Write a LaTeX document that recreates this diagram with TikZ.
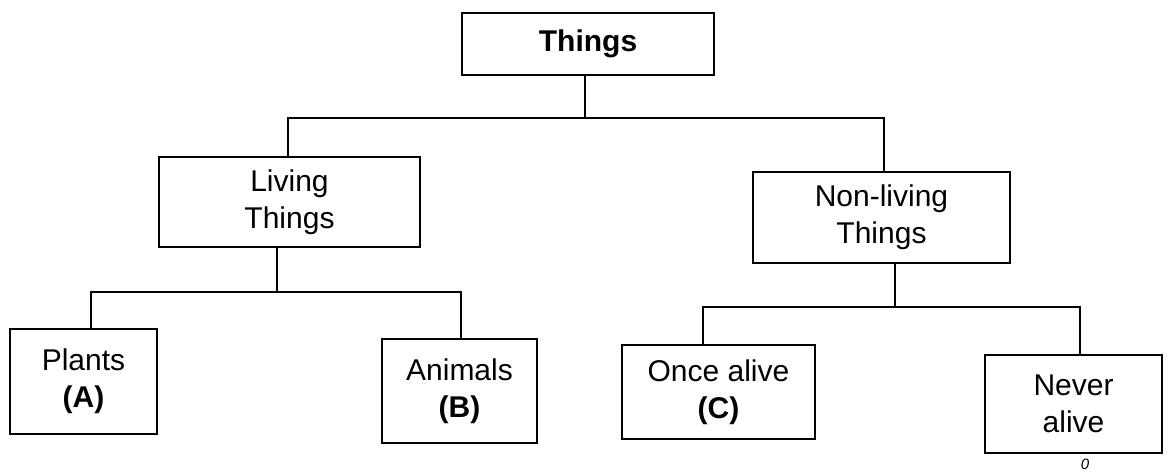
\documentclass[tikz,border=0pt]{standalone}
\usepackage{fontspec}
\setmainfont{Liberation Sans}
\begin{document}
\begin{tikzpicture}[x=1pt,y=-1pt,
  box/.style={draw=black, line width=2.2pt, rectangle, inner sep=0pt, align=center,
    font=\fontsize{30}{37}\selectfont},
  conn/.style={draw=black, line width=2.2pt, line cap=rect}]
\useasboundingbox (0,0) rectangle (1170,476);
\fill[white] (0,0) rectangle (1170,476);
% nodes
\node[box, minimum width=252pt, minimum height=62pt] (things) at (588,44) {\textbf{Things}};
\node[box, minimum width=261pt, minimum height=90pt] (living) at (289.5,202) {Living\\Things};
\node[box, minimum width=257pt, minimum height=91pt] (nonliving) at (881.5,217.5) {Non-living\\Things};
\node[box, minimum width=147pt, minimum height=105pt] (plants) at (83.5,381.5) {Plants\\\textbf{(A)}};
\node[box, minimum width=155pt, minimum height=104pt] (animals) at (459.5,391) {Animals\\\textbf{(B)}};
\node[box, minimum width=193pt, minimum height=94pt] (once) at (718.5,392) {Once alive\\\textbf{(C)}};
\node[box, minimum width=177pt, minimum height=98pt] (never) at (1073.5,404) {Never\\alive};
\node[font=\fontsize{15}{15}\selectfont\itshape, inner sep=0pt] (mark) at (1085,464) {0};
% junctions
\coordinate (j0) at (585,118);
\coordinate (j1) at (277,292);
\coordinate (j2) at (895,307);
% connectors
\draw[conn] ([xshift=-3pt]things.south) -- (j0);
\draw[conn] ([xshift=-1.5pt]living.north) |- (j0) -| ([xshift=2.5pt]nonliving.north);
\draw[conn] ([xshift=-12.5pt]living.south) -- (j1);
\draw[conn] ([xshift=7.5pt]plants.north) |- (j1) -| ([xshift=1.5pt]animals.north);
\draw[conn] ([xshift=13.5pt]nonliving.south) -- (j2);
\draw[conn] ([xshift=-15.5pt]once.north) |- (j2) -| ([xshift=6.5pt]never.north);
\end{tikzpicture}
\end{document}
